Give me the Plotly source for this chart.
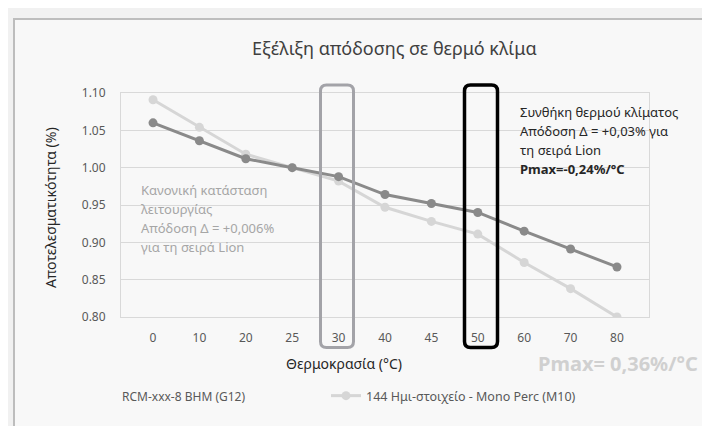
import plotly.graph_objects as go

# ---- data ----
temps = ["0", "10", "20", "25", "30", "40", "45", "50", "60", "70", "80"]
rcm_values = [1.060, 1.036, 1.012, 1.000, 0.988, 0.964, 0.952, 0.940, 0.915, 0.891, 0.867]
mono_values = [1.091, 1.054, 1.018, 1.000, 0.982, 0.947, 0.928, 0.911, 0.873, 0.838, 0.800]
rcm_name = "RCM-xxx-8 BHM (G12)"
mono_name = "144 Ημι-στοιχείο - Mono Perc (M10)"
chart_title = "Εξέλιξη απόδοσης σε θερμό κλίμα"
x_title = "Θερμοκρασία (°C)"
y_title = "Αποτελεσματικότητα (%)"
highlight_normal = "30"
highlight_hot = "50"
normal_lines = ["Κανονική κατάσταση", "λειτουργίας", "Απόδοση Δ = +0,006%", "για τη σειρά Lion"]
hot_lines = ["Συνθήκη θερμού κλίματος", "Απόδοση Δ = +0,03% για", "τη σειρά Lion", "<b>Pmax=-0,24%/°C</b>"]
pmax_text = "<b>Pmax= 0,36%/°C</b>"

# ---- layout geometry (pixels) ----
FW, FH = 710, 426
L, R, T, B = 113, 641, 85, 309
W, H = R - L, B - T


def px(x):
    return (x - L) / W


def py(y):
    return (B - y) / H


FONT = "Noto Sans"

fig = go.Figure()
fig.add_trace(go.Scatter(
    x=temps, y=mono_values, name=mono_name, mode="lines+markers",
    line=dict(color="#d6d6d6", width=3), marker=dict(color="#d6d6d6", size=9),
    showlegend=True,
))
fig.add_trace(go.Scatter(
    x=temps, y=rcm_values, name=rcm_name, mode="lines+markers",
    line=dict(color="#8a8a8a", width=3), marker=dict(color="#8a8a8a", size=9),
    showlegend=False,
))

shapes = []
# chart area frame
shapes.append(dict(type="rect", xref="paper", yref="paper", layer="below",
                   x0=px(6), x1=px(FW + 20), y0=py(FH + 20), y1=py(11),
                   line=dict(color="#bdbdbd", width=2), fillcolor="#f8f8f8"))


def rounded_box(cat, color, width):
    idx = temps.index(cat)
    n = len(temps)
    xc = (idx + 0.5) / n
    hw = 16.5 / W
    x0, x1 = xc - hw, xc + hw
    y1, y0 = py(77), py(339.5)
    rx, ry = 6 / W, 6 / H
    p = (f"M {x0+rx},{y1} L {x1-rx},{y1} Q {x1},{y1} {x1},{y1-ry} "
         f"L {x1},{y0+ry} Q {x1},{y0} {x1-rx},{y0} L {x0+rx},{y0} "
         f"Q {x0},{y0} {x0},{y0+ry} L {x0},{y1-ry} Q {x0},{y1} {x0+rx},{y1} Z")
    return dict(type="path", path=p, xref="paper", yref="paper", layer="above",
                line=dict(color=color, width=width))


shapes.append(rounded_box(highlight_normal, "#a3a3a8", 3))
shapes.append(rounded_box(highlight_hot, "#000000", 3.5))

annotations = []
annotations.append(dict(text=chart_title, xref="paper", yref="paper", x=px(386), y=py(40),
                        showarrow=False, xanchor="center", yanchor="middle",
                        font=dict(family=FONT, size=18, color="#404040")))
annotations.append(dict(text=x_title, xref="paper", yref="paper", x=px(336), y=py(355),
                        showarrow=False, xanchor="center", yanchor="middle",
                        font=dict(family=FONT, size=14, color="#262626")))
annotations.append(dict(text=y_title, xref="paper", yref="paper", x=px(42), y=py(200),
                        showarrow=False, xanchor="center", yanchor="middle", textangle=-90,
                        font=dict(family=FONT, size=14, color="#262626")))
for i, t in enumerate(normal_lines):
    annotations.append(dict(text=t, xref="paper", yref="paper", x=px(131), y=py(182 + 19 * i),
                            showarrow=False, xanchor="left", yanchor="middle",
                            font=dict(family=FONT, size=13, color="#a6a6a6")))
for i, t in enumerate(hot_lines):
    annotations.append(dict(text=t, xref="paper", yref="paper", x=px(510), y=py(104 + 19 * i),
                            showarrow=False, xanchor="left", yanchor="middle",
                            font=dict(family=FONT, size=13, color="#262626")))
annotations.append(dict(text=pmax_text, xref="paper", yref="paper", x=px(692), y=py(355),
                        showarrow=False, xanchor="right", yanchor="middle",
                        font=dict(family=FONT, size=20, color="#d0d0d0")))
annotations.append(dict(text=rcm_name, xref="paper", yref="paper", x=px(112), y=py(388),
                        showarrow=False, xanchor="left", yanchor="middle",
                        font=dict(family=FONT, size=12, color="#595959")))

fig.update_layout(
    width=FW, height=FH,
    margin=dict(l=L, r=FW - R, t=T, b=FH - B),
    paper_bgcolor="#f1f1f1", plot_bgcolor="rgba(0,0,0,0)",
    shapes=shapes, annotations=annotations,
    showlegend=True,
    legend=dict(orientation="h", x=px(318), y=py(388), xanchor="left", yanchor="middle",
                font=dict(family=FONT, size=12.5, color="#595959"), bgcolor="rgba(0,0,0,0)"),
    xaxis=dict(type="category", categoryorder="array", categoryarray=temps,
               showgrid=False, showline=True, linecolor="#d9d9d9", linewidth=1, mirror=True,
               ticks="", ticklabelstandoff=10,
               tickfont=dict(family=FONT, size=12, color="#595959")),
    yaxis=dict(range=[0.80, 1.10], dtick=0.05, tickformat=".2f",
               showgrid=True, gridcolor="#d9d9d9", gridwidth=1,
               showline=True, linecolor="#d9d9d9", mirror=True, zeroline=False,
               ticks="", ticklabelstandoff=12,
               tickfont=dict(family=FONT, size=12, color="#595959")),
)

fig.write_html("out.html")
